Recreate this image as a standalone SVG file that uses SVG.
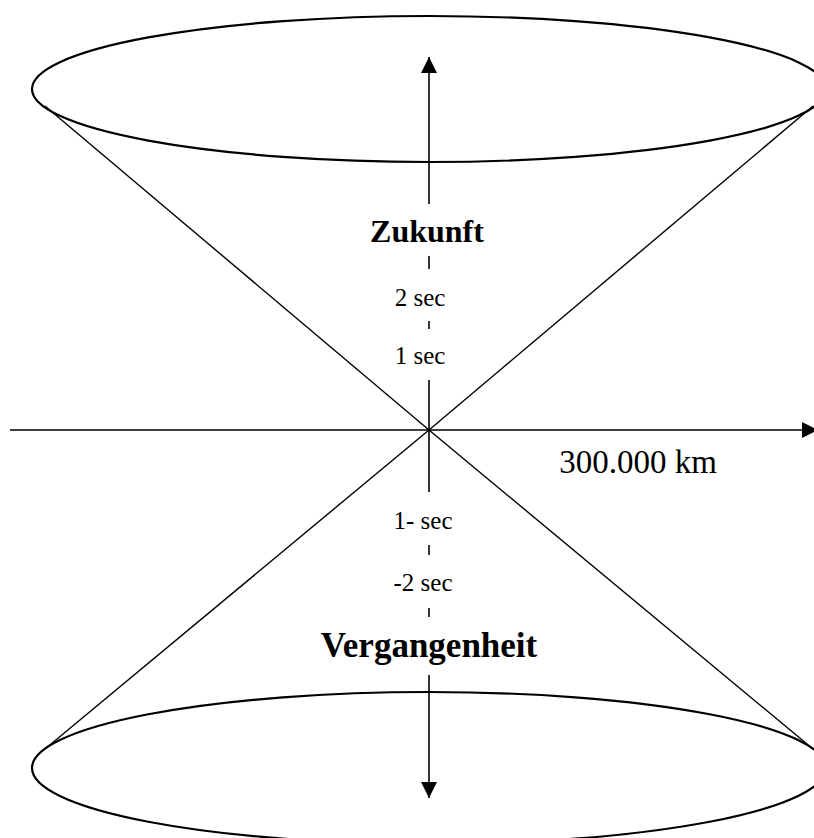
<svg xmlns="http://www.w3.org/2000/svg" width="814" height="838" viewBox="0 0 814 838">
<style>
.ell{fill:none;stroke:#000;stroke-width:2.2}
.cone{stroke:#000;stroke-width:1.4;fill:none}
.ax{stroke:#000;stroke-width:1.6;fill:none}
.t{font-family:"Liberation Serif","Times New Roman",serif;fill:#000}
.b{font-weight:bold}
.s{font-size:25px}
</style>
<defs>
<marker id="ah2" viewBox="0 0 16 16" refX="16" refY="8" markerWidth="16" markerHeight="16" markerUnits="userSpaceOnUse" orient="auto"><path d="M0,0 L16,8 L0,16 Z" fill="#000"/></marker>
</defs>
<g id="top-ellipse"><ellipse class="ell" cx="429" cy="89" rx="397" ry="73"/></g>
<g id="bottom-ellipse"><ellipse class="ell" cx="429" cy="768" rx="397" ry="76"/></g>
<g id="connectors">
<line class="cone" x1="429" y1="430" x2="45" y2="106"/>
<line class="cone" x1="429" y1="430" x2="813" y2="106"/>
<line class="cone" x1="429" y1="430" x2="45" y2="749"/>
<line class="cone" x1="429" y1="430" x2="813" y2="749"/>
<line class="ax" x1="10" y1="430" x2="818" y2="430" marker-end="url(#ah2)"/>
<line class="ax" x1="429" y1="204" x2="429" y2="57" marker-end="url(#ah2)"/>
<line class="ax" x1="429" y1="256" x2="429" y2="269"/>
<line class="ax" x1="429" y1="321" x2="429" y2="329"/>
<line class="ax" x1="429" y1="380" x2="429" y2="492"/>
<line class="ax" x1="429" y1="545" x2="429" y2="555"/>
<line class="ax" x1="429" y1="608" x2="429" y2="617"/>
<line class="ax" x1="429" y1="675" x2="429" y2="798" marker-end="url(#ah2)"/>
</g>
<g id="labels">
<text class="t b" x="427" y="242" text-anchor="middle" font-size="32">Zukunft</text>
<text class="t s" x="420" y="306" text-anchor="middle">2 sec</text>
<text class="t s" x="420" y="364" text-anchor="middle">1 sec</text>
<text class="t s" x="423" y="529" text-anchor="middle">1- sec</text>
<text class="t s" x="423" y="591" text-anchor="middle">-2 sec</text>
<text class="t b" x="429" y="657" text-anchor="middle" font-size="35">Vergangenheit</text>
<text class="t" x="638" y="473" text-anchor="middle" font-size="33">300.000 km</text>
</g>
</svg>
